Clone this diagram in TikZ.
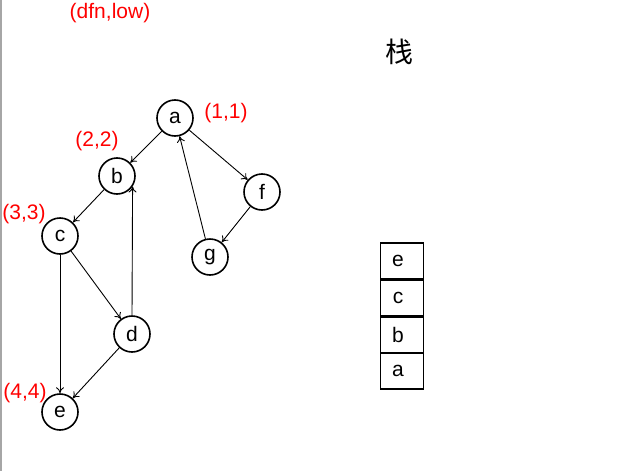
\documentclass[tikz,border=0pt]{standalone}
\usepackage{fontspec}
\setmainfont{Liberation Sans}
\newfontfamily\cjk{Noto Sans CJK SC}
\usetikzlibrary{arrows.meta}
\tikzset{
  vtx/.style={circle,draw,line width=1.6pt,minimum size=36pt,inner sep=0pt,font=\fontsize{21}{21}\selectfont},
  lbl/.style={text=red,font=\fontsize{21}{21}\selectfont,inner sep=0pt},
  edge/.style={-{To[length=6pt,width=8pt]},line width=0.9pt},
  cell/.style={draw,line width=1.1pt,minimum width=43pt,minimum height=36pt,inner sep=0pt,font=\fontsize{21}{21}\selectfont}
}
\begin{document}
\begin{tikzpicture}[x=1pt,y=-1pt]
\useasboundingbox (0,0) rectangle (639,471);
\fill[white] (0,0) rectangle (639,471);
\draw[gray!70,line width=1.2pt] (1,0) -- (1,471);
\node[vtx] (a) at (175,118) {a};
\node[vtx] (b) at (117,176) {b};
\node[vtx] (c) at (60,236) {c};
\node[vtx] (d) at (132,334) {d};
\node[vtx] (e) at (60,412) {e};
\node[vtx] (f) at (262,192) {f};
\node[vtx] (g) at (210,257) {g};
\draw[edge] (a) -- (b);
\draw[edge] (b) -- (c);
\draw[edge] (c) -- (d);
\draw[edge] (c) -- (e);
\draw[edge] (d) -- (e);
\draw[edge] (d.north) -- (b.-34);
\draw[edge] (a) -- (f);
\draw[edge] (f) -- (g);
\draw[edge] (g) -- (a);
\node[lbl] (l0) at (110,13) {(dfn,low)};
\node[lbl] (l1) at (226,113) {(1,1)};
\node[lbl] (l2) at (97,141) {(2,2)};
\node[lbl] (l3) at (24,214) {(3,3)};
\node[lbl] (l4) at (25,393) {(4,4)};
\node[font=\cjk\fontsize{28}{28}\selectfont,inner sep=0pt] (zh) at (399,52) {栈};
\node[cell] (se) at (402,261) {\hspace*{-8pt}e};
\node[cell] (sc) at (402,298) {\hspace*{-8pt}c};
\node[cell] (sb) at (402,335) {\hspace*{-8pt}b};
\node[cell] (sa) at (402,371) {\hspace*{-8pt}a};
\end{tikzpicture}
\end{document}
